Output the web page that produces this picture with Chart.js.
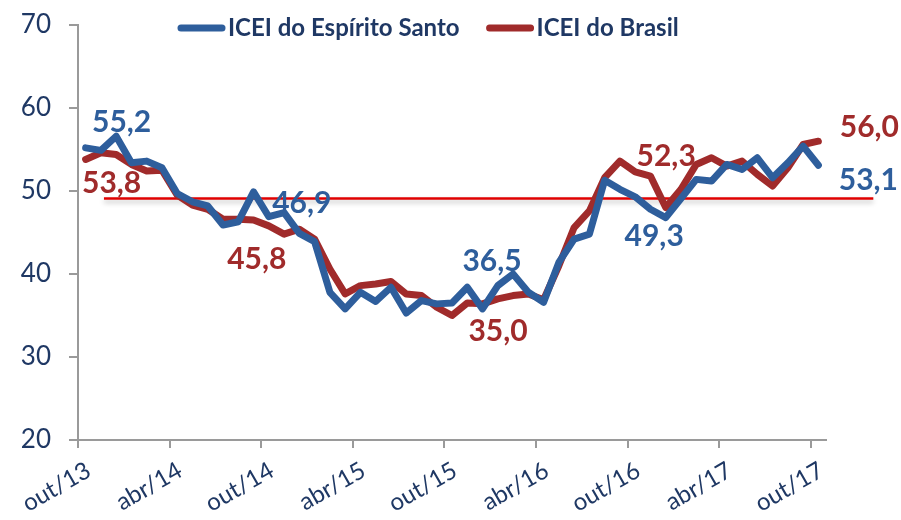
<!DOCTYPE html>
<html>
<head>
<meta charset="utf-8">
<script src="https://cdn.jsdelivr.net/npm/chart.js@4/dist/chart.umd.min.js"></script>
<style>
  html, body { margin: 0; padding: 0; background: #fff; }
</style>
</head>
<body>
<canvas id="icei-chart" width="901" height="520"></canvas>
<script>
// ========================================
// ICEI - Espírito Santo x Brasil
// ========================================

const months = [
    'out/13', 'nov/13', 'dez/13', 'jan/14', 'fev/14', 'mar/14',
    'abr/14', 'mai/14', 'jun/14', 'jul/14', 'ago/14', 'set/14',
    'out/14', 'nov/14', 'dez/14', 'jan/15', 'fev/15', 'mar/15',
    'abr/15', 'mai/15', 'jun/15', 'jul/15', 'ago/15', 'set/15',
    'out/15', 'nov/15', 'dez/15', 'jan/16', 'fev/16', 'mar/16',
    'abr/16', 'mai/16', 'jun/16', 'jul/16', 'ago/16', 'set/16',
    'out/16', 'nov/16', 'dez/16', 'jan/17', 'fev/17', 'mar/17',
    'abr/17', 'mai/17', 'jun/17', 'jul/17', 'ago/17', 'set/17',
    'out/17'
];

const iceiES = [
    55.2, 54.9, 56.6, 53.4, 53.6, 52.8,
    49.7, 48.7, 48.2, 45.9, 46.3, 49.9,
    46.9, 47.4, 44.9, 43.9, 37.8, 35.8,
    37.8, 36.7, 38.4, 35.3, 36.8, 36.4,
    36.5, 38.4, 35.8, 38.6, 40.0, 37.8,
    36.6, 41.4, 44.2, 44.8, 51.3, 50.2,
    49.3, 47.8, 46.8, 49.1, 51.4, 51.2,
    53.2, 52.6, 54.0, 51.6, 53.4, 55.4,
    53.1
];

const iceiBR = [
    53.8, 54.6, 54.4, 53.2, 52.4, 52.5,
    49.5, 48.3, 47.8, 46.6, 46.6, 46.5,
    45.8, 44.8, 45.4, 44.2, 40.6, 37.6,
    38.6, 38.8, 39.1, 37.6, 37.4, 36.0,
    35.0, 36.5, 36.4, 37.0, 37.4, 37.6,
    36.9, 41.0, 45.6, 47.6, 51.6, 53.6,
    52.3, 51.8, 48.0, 50.2, 53.2, 54.0,
    53.0, 53.6, 52.0, 50.6, 52.8, 55.6,
    56.0
];

const seriesNames = ['ICEI do Espírito Santo', 'ICEI do Brasil'];
const labelledMonths = ['out/13', 'out/14', 'out/15', 'out/16', 'out/17'];
const referenceLevel = 49.1;

const BLUE = '#2E5E9C';
const RED = '#A02B2B';
const NAVY = '#1F3864';
const AXIS = '#9A9A9A';
const FONT = 'Lato, "Open Sans", sans-serif';

// where each value label sits relative to its point (px)
const labelOffsets = [
    [[36, -26], [33, -13], [40, -42], [19, 40], [50, 15]],
    [[26, 24], [-12, 33], [46, 16], [31, -16], [51, -14]]
];

const fmt = v => v.toFixed(1).replace('.', ',');

// red horizontal reference line, behind the series
const refLinePlugin = {
    id: 'refLine',
    beforeDatasetsDraw(chart) {
        const { ctx, scales: { x, y } } = chart;
        const py = y.getPixelForValue(referenceLevel);
        ctx.save();
        ctx.strokeStyle = '#E00000';
        ctx.lineWidth = 2.5;
        ctx.shadowColor = 'rgba(0,0,0,0.25)';
        ctx.shadowBlur = 5;
        ctx.shadowOffsetY = 3;
        ctx.beginPath();
        ctx.moveTo(x.getPixelForValue(1.2), py);
        ctx.lineTo(x.getPixelForValue(51.6), py);
        ctx.stroke();
        ctx.restore();
    }
};

// value labels at out/13 .. out/17
const valueLabelPlugin = {
    id: 'valueLabels',
    afterDatasetsDraw(chart) {
        const { ctx } = chart;
        ctx.save();
        ctx.font = 'bold 30px ' + FONT;
        ctx.textAlign = 'center';
        ctx.textBaseline = 'middle';
        chart.data.datasets.forEach((ds, d) => {
            const meta = chart.getDatasetMeta(d);
            ctx.fillStyle = ds.borderColor;
            labelledMonths.forEach((m, k) => {
                const i = months.indexOf(m);
                const pt = meta.data[i];
                const [dx, dy] = labelOffsets[d][k];
                ctx.fillText(fmt(ds.data[i]), pt.x + dx, pt.y + dy);
            });
        });
        ctx.restore();
    }
};

// legend drawn by hand so it can overlap the top of the plot like the original
const legendPlugin = {
    id: 'handLegend',
    afterDraw(chart) {
        const { ctx } = chart;
        const lineLen = 47, gap = 3, spacing = 27, cy = 28;
        ctx.save();
        ctx.font = 'bold 24px ' + FONT;
        ctx.textBaseline = 'middle';
        const widths = chart.data.datasets.map(ds => lineLen + gap + ctx.measureText(ds.label).width);
        let x = chart.chartArea.left + 100;
        chart.data.datasets.forEach((ds, d) => {
            ctx.strokeStyle = ds.borderColor;
            ctx.lineWidth = 7;
            ctx.lineCap = 'round';
            ctx.beginPath();
            ctx.moveTo(x + 3, cy);
            ctx.lineTo(x + lineLen - 3, cy);
            ctx.stroke();
            ctx.fillStyle = NAVY;
            ctx.fillText(ds.label, x + lineLen + gap, cy);
            x += widths[d] + spacing;
        });
        ctx.restore();
    }
};

new Chart(document.getElementById('icei-chart'), {
    type: 'line',
    data: {
        labels: months,
        datasets: [
            {
                label: seriesNames[0],
                data: iceiES,
                borderColor: BLUE,
                backgroundColor: BLUE,
                borderWidth: 7,
                borderJoinStyle: 'round',
                borderCapStyle: 'round',
                pointRadius: 0,
                tension: 0,
                fill: false
            },
            {
                label: seriesNames[1],
                data: iceiBR,
                borderColor: RED,
                backgroundColor: RED,
                borderWidth: 7,
                borderJoinStyle: 'round',
                borderCapStyle: 'round',
                pointRadius: 0,
                tension: 0,
                fill: false
            }
        ]
    },
    options: {
        responsive: false,
        animation: false,
        devicePixelRatio: 1,
        layout: { padding: { top: 25, right: 75, bottom: 0, left: 0 } },
        scales: {
            x: {
                offset: true,
                grid: {
                    offset: true,
                    drawOnChartArea: false,
                    tickLength: 8,
                    lineWidth: 2,
                    color: c => (c.index !== undefined && c.index % 6 === 0) ? AXIS : 'rgba(0,0,0,0)'
                },
                border: { display: true, color: AXIS, width: 2 },
                ticks: {
                    autoSkip: false,
                    minRotation: 30,
                    maxRotation: 30,
                    padding: 8,
                    labelOffset: 3,
                    color: NAVY,
                    font: { family: FONT, size: 24 },
                    callback: (v, i) => i % 6 === 0 ? months[i] : ''
                },
                afterFit: s => { s.height = 80; }
            },
            y: {
                min: 20,
                max: 70,
                grid: {
                    drawOnChartArea: false,
                    tickLength: 9,
                    lineWidth: 2,
                    color: AXIS
                },
                border: { display: true, color: AXIS, width: 2 },
                ticks: {
                    stepSize: 10,
                    padding: 18,
                    color: NAVY,
                    font: { family: FONT, size: 26, lineHeight: 0.5 }
                },
                afterFit: s => { s.width = 78; }
            }
        },
        plugins: {
            legend: { display: false },
            tooltip: { enabled: false }
        }
    },
    plugins: [refLinePlugin, valueLabelPlugin, legendPlugin]
});
</script>
</body>
</html>
